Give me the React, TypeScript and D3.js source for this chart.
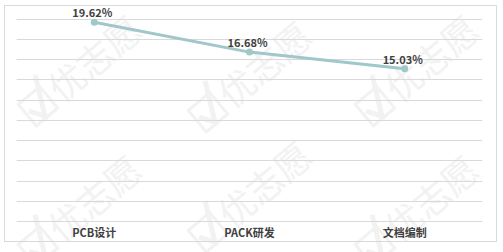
import React from "react";
import * as d3 from "d3";

const categories = ["PCB设计", "PACK研发", "文档编制"];
const values = [19.62, 16.68, 15.03];
const yTicks = [0, 2, 4, 6, 8, 10, 12, 14, 16, 18, 20];

const W = 503;
const H = 252;
const left = 16.7;
const right = 482.3;
const top = 18.5;
const bottom = 221;

const watermarkCenters: [number, number][] = [
  [85, 72], [255, 78], [422, 72],
  [85, 212], [255, 198], [422, 212],
];

const wm = "#f2f2f2";

function Watermark({ cx, cy }: { cx: number; cy: number }) {
  return (
    <g transform={`translate(${cx},${cy}) rotate(-40)`}>
      <rect x={-72} y={-18} width={28} height={28} fill="none" stroke={wm} strokeWidth={3} />
      <path d="M-68,-6 L-59,8 L-40,-30" fill="none" stroke={wm} strokeWidth={5} />
      <text x={-38} y={10} fontSize={36} fontWeight="normal" fill={wm}
        fontFamily="'Noto Sans CJK SC', sans-serif">优志愿</text>
    </g>
  );
}

export default function App() {
  const y = d3.scaleLinear().domain([0, 20]).range([bottom, top]);
  const x = d3.scaleBand<string>().domain(categories).range([left, right]);
  const cx = (c: string) => (x(c) as number) + x.bandwidth() / 2;
  const line = d3
    .line<number>()
    .x((_, i) => cx(categories[i]))
    .y((d) => y(d));

  const font = "'Noto Sans CJK SC', 'Microsoft YaHei', sans-serif";

  return (
    <svg width={W} height={H} style={{ position: "absolute", left: 0, top: 0, background: "#fff" }}>
      <rect x={0} y={0} width={W} height={H} fill="#fff" />
      {watermarkCenters.map(([a, b], i) => (
        <Watermark key={i} cx={a} cy={b} />
      ))}
      <rect x={4.5} y={5.5} width={492} height={236} fill="none" stroke="#d9d9d9" strokeWidth={1} />
      {yTicks.map((t) => (
        <line key={t} x1={left} x2={right} y1={Math.round(y(t)) + 0.5} y2={Math.round(y(t)) + 0.5}
          stroke="#d9d9d9" strokeWidth={1} />
      ))}
      <path d={line(values) || ""} fill="none" stroke="#a0c7c9" strokeWidth={3} />
      {values.map((v, i) => (
        <circle key={i} cx={cx(categories[i])} cy={y(v)} r={3.5} fill="#a0c7c9" />
      ))}
      {values.map((v, i) => (
        <text key={"l" + i} x={cx(categories[i]) - 2} y={y(v) - 5} textAnchor="middle"
          fontSize={11} fontWeight={600} fill="#404040" fontFamily={font}>
          {v.toFixed(2)}%
        </text>
      ))}
      {categories.map((c) => (
        <text key={c} x={cx(c)} y={237} textAnchor="middle" fontSize={11} fontWeight={600}
          fill="#404040" fontFamily={font}>
          {c}
        </text>
      ))}
    </svg>
  );
}
